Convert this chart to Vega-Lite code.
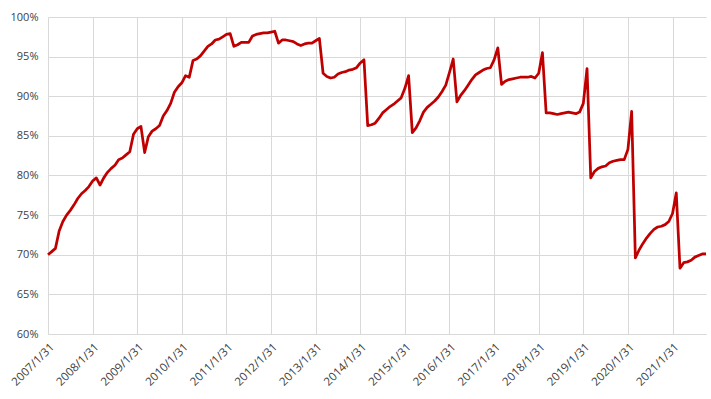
{
  "$schema": "https://vega.github.io/schema/vega-lite/v6.json",
  "autosize": "none",
  "width": 658,
  "height": 317,
  "padding": {"left": 48, "top": 17, "right": 5, "bottom": 65},
  "background": "white",
  "config": {"view": {"stroke": null}, "font": "Open Sans"},
  "data": {"values": [
    {"d":"2007/1/31","v":0.700},{"d":"2007/2/28","v":0.704},{"d":"2007/3/31","v":0.708},{"d":"2007/4/30","v":0.730},{"d":"2007/5/31","v":0.742},{"d":"2007/6/30","v":0.750},{"d":"2007/7/31","v":0.756},{"d":"2007/8/31","v":0.763},{"d":"2007/9/30","v":0.771},{"d":"2007/10/31","v":0.777},{"d":"2007/11/30","v":0.781},{"d":"2007/12/31","v":0.786},
    {"d":"2008/1/31","v":0.793},{"d":"2008/2/29","v":0.797},{"d":"2008/3/31","v":0.788},{"d":"2008/4/30","v":0.797},{"d":"2008/5/31","v":0.804},{"d":"2008/6/30","v":0.809},{"d":"2008/7/31","v":0.813},{"d":"2008/8/31","v":0.820},{"d":"2008/9/30","v":0.822},{"d":"2008/10/31","v":0.826},{"d":"2008/11/30","v":0.830},{"d":"2008/12/31","v":0.852},
    {"d":"2009/1/31","v":0.859},{"d":"2009/2/28","v":0.862},{"d":"2009/3/31","v":0.829},{"d":"2009/4/30","v":0.849},{"d":"2009/5/31","v":0.856},{"d":"2009/6/30","v":0.859},{"d":"2009/7/31","v":0.863},{"d":"2009/8/31","v":0.875},{"d":"2009/9/30","v":0.882},{"d":"2009/10/31","v":0.891},{"d":"2009/11/30","v":0.905},{"d":"2009/12/31","v":0.912},
    {"d":"2010/1/31","v":0.917},{"d":"2010/2/28","v":0.926},{"d":"2010/3/31","v":0.924},{"d":"2010/4/30","v":0.945},{"d":"2010/5/31","v":0.947},{"d":"2010/6/30","v":0.951},{"d":"2010/7/31","v":0.957},{"d":"2010/8/31","v":0.963},{"d":"2010/9/30","v":0.966},{"d":"2010/10/31","v":0.971},{"d":"2010/11/30","v":0.972},{"d":"2010/12/31","v":0.975},
    {"d":"2011/1/31","v":0.978},{"d":"2011/2/28","v":0.979},{"d":"2011/3/31","v":0.963},{"d":"2011/4/30","v":0.965},{"d":"2011/5/31","v":0.968},{"d":"2011/6/30","v":0.968},{"d":"2011/7/31","v":0.968},{"d":"2011/8/31","v":0.976},{"d":"2011/9/30","v":0.978},{"d":"2011/10/31","v":0.979},{"d":"2011/11/30","v":0.980},{"d":"2011/12/31","v":0.980},
    {"d":"2012/1/31","v":0.981},{"d":"2012/2/29","v":0.982},{"d":"2012/3/31","v":0.967},{"d":"2012/4/30","v":0.971},{"d":"2012/5/31","v":0.971},{"d":"2012/6/30","v":0.970},{"d":"2012/7/31","v":0.969},{"d":"2012/8/31","v":0.966},{"d":"2012/9/30","v":0.964},{"d":"2012/10/31","v":0.966},{"d":"2012/11/30","v":0.967},{"d":"2012/12/31","v":0.967},
    {"d":"2013/1/31","v":0.970},{"d":"2013/2/28","v":0.973},{"d":"2013/3/31","v":0.929},{"d":"2013/4/30","v":0.925},{"d":"2013/5/31","v":0.923},{"d":"2013/6/30","v":0.924},{"d":"2013/7/31","v":0.928},{"d":"2013/8/31","v":0.930},{"d":"2013/9/30","v":0.931},{"d":"2013/10/31","v":0.933},{"d":"2013/11/30","v":0.934},{"d":"2013/12/31","v":0.936},
    {"d":"2014/1/31","v":0.942},{"d":"2014/2/28","v":0.946},{"d":"2014/3/31","v":0.863},{"d":"2014/4/30","v":0.864},{"d":"2014/5/31","v":0.866},{"d":"2014/6/30","v":0.872},{"d":"2014/7/31","v":0.879},{"d":"2014/8/31","v":0.883},{"d":"2014/9/30","v":0.887},{"d":"2014/10/31","v":0.890},{"d":"2014/11/30","v":0.894},{"d":"2014/12/31","v":0.898},
    {"d":"2015/1/31","v":0.910},{"d":"2015/2/28","v":0.926},{"d":"2015/3/31","v":0.854},{"d":"2015/4/30","v":0.860},{"d":"2015/5/31","v":0.869},{"d":"2015/6/30","v":0.880},{"d":"2015/7/31","v":0.886},{"d":"2015/8/31","v":0.890},{"d":"2015/9/30","v":0.894},{"d":"2015/10/31","v":0.899},{"d":"2015/11/30","v":0.906},{"d":"2015/12/31","v":0.914},
    {"d":"2016/1/31","v":0.930},{"d":"2016/2/29","v":0.947},{"d":"2016/3/31","v":0.893},{"d":"2016/4/30","v":0.901},{"d":"2016/5/31","v":0.907},{"d":"2016/6/30","v":0.914},{"d":"2016/7/31","v":0.921},{"d":"2016/8/31","v":0.927},{"d":"2016/9/30","v":0.930},{"d":"2016/10/31","v":0.933},{"d":"2016/11/30","v":0.935},{"d":"2016/12/31","v":0.936},
    {"d":"2017/1/31","v":0.946},{"d":"2017/2/28","v":0.961},{"d":"2017/3/31","v":0.915},{"d":"2017/4/30","v":0.919},{"d":"2017/5/31","v":0.921},{"d":"2017/6/30","v":0.922},{"d":"2017/7/31","v":0.923},{"d":"2017/8/31","v":0.924},{"d":"2017/9/30","v":0.924},{"d":"2017/10/31","v":0.924},{"d":"2017/11/30","v":0.925},{"d":"2017/12/31","v":0.923},
    {"d":"2018/1/31","v":0.929},{"d":"2018/2/28","v":0.955},{"d":"2018/3/31","v":0.879},{"d":"2018/4/30","v":0.879},{"d":"2018/5/31","v":0.878},{"d":"2018/6/30","v":0.877},{"d":"2018/7/31","v":0.878},{"d":"2018/8/31","v":0.879},{"d":"2018/9/30","v":0.880},{"d":"2018/10/31","v":0.879},{"d":"2018/11/30","v":0.878},{"d":"2018/12/31","v":0.880},
    {"d":"2019/1/31","v":0.891},{"d":"2019/2/28","v":0.935},{"d":"2019/3/31","v":0.797},{"d":"2019/4/30","v":0.805},{"d":"2019/5/31","v":0.809},{"d":"2019/6/30","v":0.811},{"d":"2019/7/31","v":0.812},{"d":"2019/8/31","v":0.816},{"d":"2019/9/30","v":0.818},{"d":"2019/10/31","v":0.819},{"d":"2019/11/30","v":0.820},{"d":"2019/12/31","v":0.820},
    {"d":"2020/1/31","v":0.833},{"d":"2020/2/29","v":0.881},{"d":"2020/3/31","v":0.696},{"d":"2020/4/30","v":0.706},{"d":"2020/5/31","v":0.714},{"d":"2020/6/30","v":0.721},{"d":"2020/7/31","v":0.727},{"d":"2020/8/31","v":0.732},{"d":"2020/9/30","v":0.735},{"d":"2020/10/31","v":0.736},{"d":"2020/11/30","v":0.738},{"d":"2020/12/31","v":0.742},
    {"d":"2021/1/31","v":0.752},{"d":"2021/2/28","v":0.778},{"d":"2021/3/31","v":0.683},{"d":"2021/4/30","v":0.690},{"d":"2021/5/31","v":0.691},{"d":"2021/6/30","v":0.693},{"d":"2021/7/31","v":0.697},{"d":"2021/8/31","v":0.699},{"d":"2021/9/30","v":0.701},{"d":"2021/10/31","v":0.701}
  ]},
  "mark": {"type": "line", "color": "#c00000", "strokeWidth": 2.75, "strokeJoin": "round"},
  "encoding": {
    "x": {
      "field": "d", "type": "ordinal", "sort": null,
      "scale": {"type": "point", "padding": 0},
      "axis": {
        "title": null,
        "values": ["2007/1/31","2008/1/31","2009/1/31","2010/1/31","2011/1/31","2012/1/31","2013/1/31","2014/1/31","2015/1/31","2016/1/31","2017/1/31","2018/1/31","2019/1/31","2020/1/31","2021/1/31"],
        "labelAngle": -45, "labelAlign": "right", "labelBaseline": "top",
        "labelFontSize": 11.5, "labelColor": "#404040", "labelPadding": 7,
        "ticks": false, "domain": true, "domainColor": "#d9d9d9",
        "grid": true, "gridColor": "#d9d9d9", "gridWidth": 1,
        "labelOverlap": false
      }
    },
    "y": {
      "field": "v", "type": "quantitative",
      "scale": {"domain": [0.6, 1.0], "nice": false, "zero": false},
      "axis": {
        "title": null, "format": ".0%",
        "values": [0.6,0.65,0.7,0.75,0.8,0.85,0.9,0.95,1.0],
        "labelFontSize": 11, "labelColor": "#404040", "labelPadding": 10,
        "ticks": false, "domain": false,
        "grid": true, "gridColor": "#d9d9d9", "gridWidth": 1
      }
    }
  }
}
